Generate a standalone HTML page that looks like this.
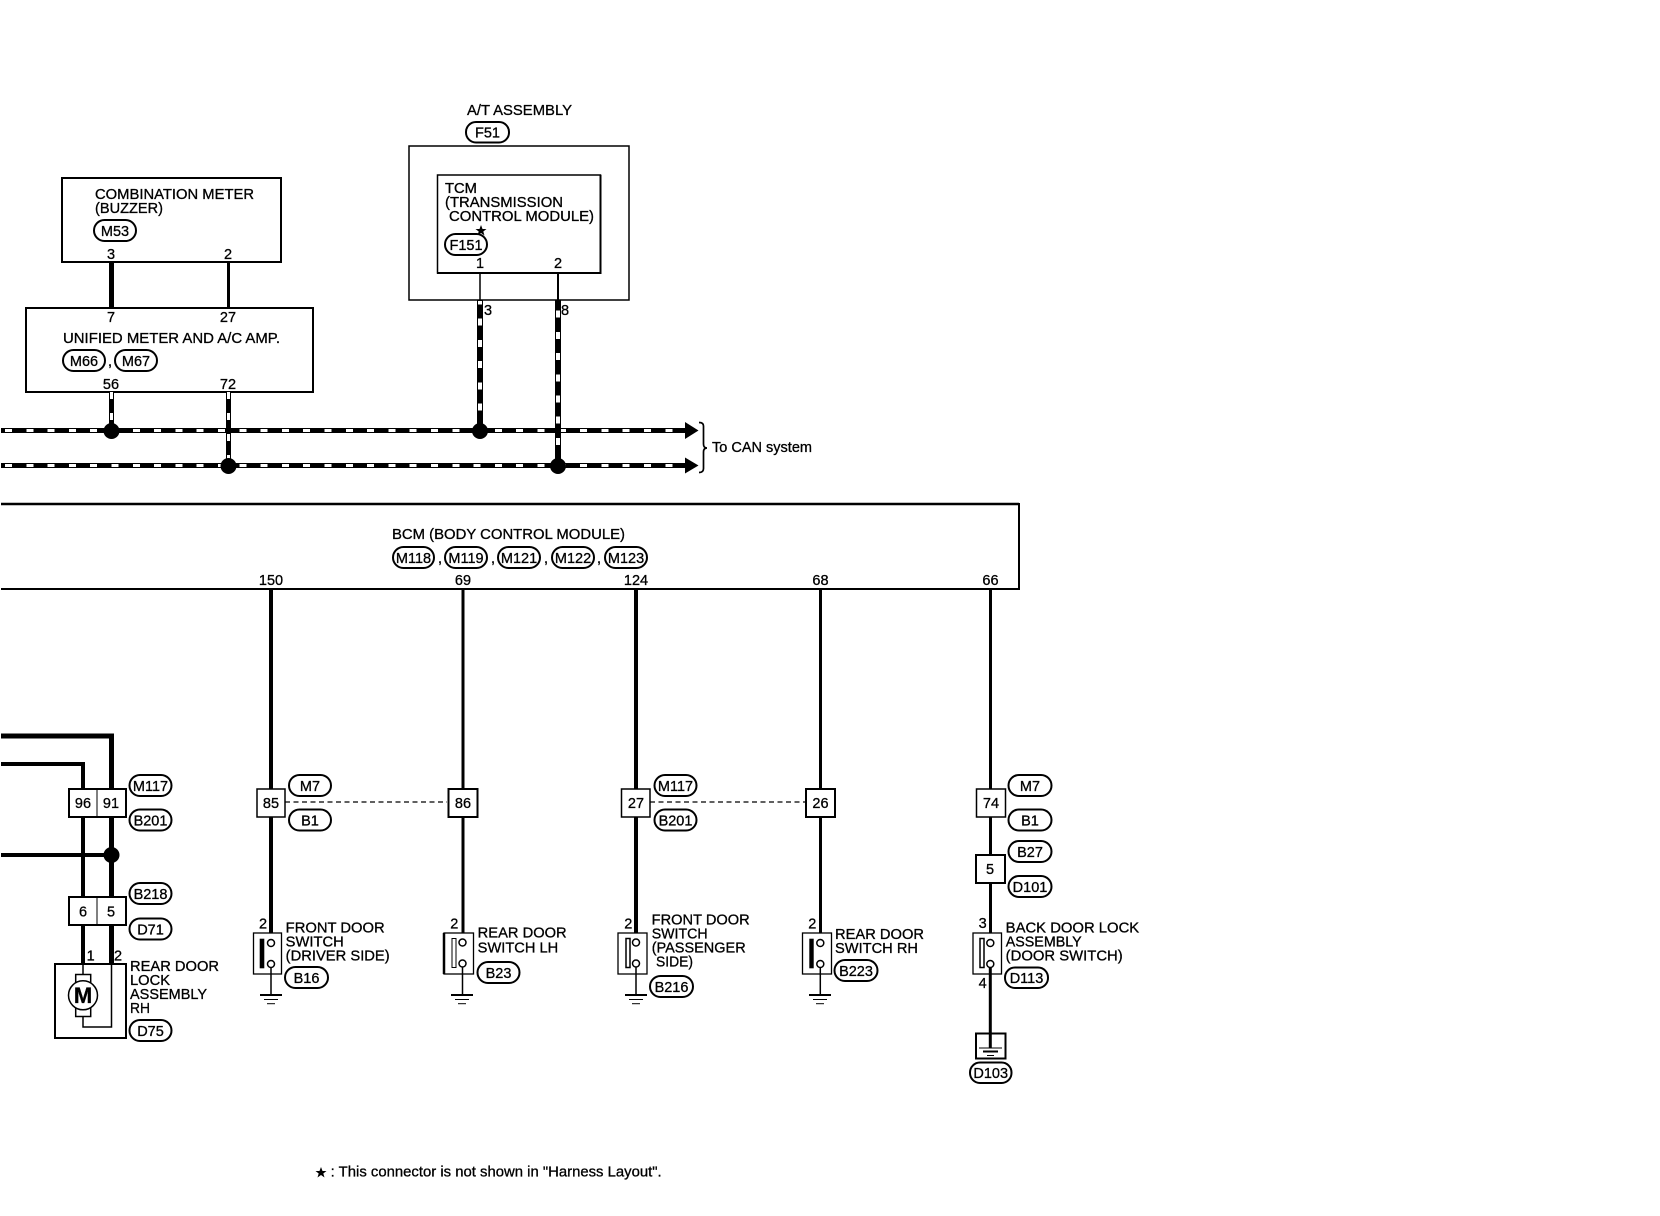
<!DOCTYPE html>
<html><head><meta charset="utf-8"><title>Wiring diagram</title>
<style>
html,body{margin:0;padding:0;background:#fff}
svg{display:block}
text{font-family:"Liberation Sans",sans-serif;font-size:14.5px;fill:#000;stroke:#000;stroke-width:.3}
.m{text-anchor:middle}
.p{fill:#fff;stroke:#000;stroke-width:2}
.b{fill:#fff;stroke:#000}
.n{fill:none;stroke:#000}
.w{fill:none;stroke:#fff;shape-rendering:crispEdges}
</style></head><body>
<svg width="1660" height="1216" viewBox="0 0 1660 1216" xmlns="http://www.w3.org/2000/svg">
<rect width="1660" height="1216" fill="#fff"/>

<!-- Combination meter -->
<rect class="b" x="62" y="178" width="219" height="84" stroke-width="2"/>
<text x="95" y="199" textLength="159" lengthAdjust="spacingAndGlyphs">COMBINATION METER</text>
<text x="95" y="213" textLength="68" lengthAdjust="spacingAndGlyphs">(BUZZER)</text>
<rect class="p" x="94" y="220" width="42" height="21" rx="10.5"/><text class="m" x="115" y="236">M53</text>
<text class="m" x="111" y="259">3</text><text class="m" x="228" y="259">2</text>
<path class="n" d="M111.5 262V308" stroke-width="5"/>
<path class="n" d="M228.5 262V308" stroke-width="3"/>

<!-- Unified meter -->
<rect class="b" x="26" y="308" width="287" height="84" stroke-width="2"/>
<text class="m" x="111" y="322">7</text><text class="m" x="228" y="322">27</text>
<text x="63" y="343" textLength="217" lengthAdjust="spacingAndGlyphs">UNIFIED METER AND A/C AMP.</text>
<rect class="p" x="63" y="350" width="42" height="21" rx="10.5"/><text class="m" x="84" y="366">M66</text>
<text x="108" y="366">,</text>
<rect class="p" x="115" y="350" width="42" height="21" rx="10.5"/><text class="m" x="136" y="366">M67</text>
<text class="m" x="111" y="389">56</text><text class="m" x="228" y="389">72</text>

<!-- A/T assembly -->
<text x="467" y="115" textLength="105" lengthAdjust="spacingAndGlyphs">A/T ASSEMBLY</text>
<rect class="p" x="466" y="122" width="43" height="20.5" rx="10"/><text class="m" x="487.500" y="137.500">F51</text>
<rect class="b" x="409" y="146" width="220" height="154" stroke-width="1.500"/>
<rect class="b" x="437.500" y="175" width="163" height="98" stroke-width="1.500"/>
<path class="n" d="M600.500 175V273H437" stroke-width="2"/>
<text x="445" y="193" textLength="32" lengthAdjust="spacingAndGlyphs">TCM</text>
<text x="445" y="207" textLength="118" lengthAdjust="spacingAndGlyphs">(TRANSMISSION</text>
<text x="449" y="221" textLength="145" lengthAdjust="spacingAndGlyphs">CONTROL MODULE)</text>
<polygon points="481,225 482.500,229 486.500,229 483.300,231.500 484.500,235.500 481,233 477.500,235.500 478.700,231.500 475.500,229 479.500,229"/>
<rect class="p" x="445" y="234" width="42" height="21" rx="10.500"/><text class="m" x="466" y="250">F151</text>
<text class="m" x="480" y="268">1</text><text class="m" x="558" y="268">2</text>
<path class="n" d="M480 273V300" stroke-width="1.500"/>
<path class="n" d="M558 273V300" stroke-width="2"/>
<text x="484" y="315">3</text><text x="561" y="315">8</text>

<!-- CAN bus -->
<path class="n" d="M1 430.500H686M1 465.500H686" stroke-width="5"/>
<path class="w" d="M5 430.500H686M5 465.500H686" stroke-width="3" stroke-dasharray="7 14.300"/>
<path class="n" d="M111.500 392V431M228.500 392V466" stroke-width="5"/>
<path class="n" d="M480 300.500V431M558 300.500V466" stroke-width="6"/>
<path class="w" d="M111.500 392V431M228.500 392V466" stroke-width="3" stroke-dasharray="7 14"/>
<path class="w" d="M480 301V431" stroke-width="4" stroke-dasharray="7 14.200" stroke-dashoffset="3.500"/>
<path class="w" d="M558 310.700V466" stroke-width="4" stroke-dasharray="7 14.200"/>
<circle cx="111.500" cy="431" r="8"/><circle cx="228.500" cy="466" r="8"/>
<circle cx="480" cy="431" r="8"/><circle cx="558" cy="466" r="8"/>
<polygon points="685,422 698.500,430.500 685,439"/><polygon points="685,457.500 698.500,465.500 685,473.500"/>
<path class="n" d="M699 422.500Q703.500 422.500 703.500 426V444Q703.500 448 707 448Q703.500 448 703.500 452V468.500Q703.500 472.500 699 472.500" stroke-width="1.700"/>
<text x="712" y="452" textLength="100" lengthAdjust="spacingAndGlyphs">To CAN system</text>

<!-- BCM -->
<path class="n" d="M1 504H1019V589H1" stroke-width="2"/>
<path class="n" d="M1 504H1019" stroke-width="2.500"/>
<text x="392" y="539" textLength="233" lengthAdjust="spacingAndGlyphs">BCM (BODY CONTROL MODULE)</text>
<rect class="p" x="393" y="547" width="41" height="21" rx="10.500"/><text class="m" x="413.500" y="563">M118</text>
<text x="438" y="563">,</text>
<rect class="p" x="445" y="547" width="42" height="21" rx="10.500"/><text class="m" x="466" y="563">M119</text>
<text x="491" y="563">,</text>
<rect class="p" x="498" y="547" width="42" height="21" rx="10.500"/><text class="m" x="519" y="563">M121</text>
<text x="544" y="563">,</text>
<rect class="p" x="552" y="547" width="42" height="21" rx="10.500"/><text class="m" x="573" y="563">M122</text>
<text x="597" y="563">,</text>
<rect class="p" x="605" y="547" width="42" height="21" rx="10.500"/><text class="m" x="626" y="563">M123</text>
<text class="m" x="271" y="585">150</text><text class="m" x="463" y="585">69</text><text class="m" x="636" y="585">124</text><text class="m" x="820.500" y="585">68</text><text class="m" x="990.500" y="585">66</text>

<!-- BCM wires -->
<path class="n" d="M271 589V940" stroke-width="4"/>
<path class="n" d="M463 589V940" stroke-width="3"/>
<path class="n" d="M636 589V940" stroke-width="4"/>
<path class="n" d="M820.500 589V940" stroke-width="3"/>
<path class="n" d="M990.500 589V940" stroke-width="3"/>
<path class="n" d="M285 802H447M650 802H806" stroke-width="1.200" stroke-dasharray="5 3.500"/>

<!-- Left wires -->
<path class="n" d="M1 736H111.500V964" stroke-width="5"/>
<path class="n" d="M1 764H83V964" stroke-width="4"/>
<path class="n" d="M1 855H111" stroke-width="4"/>
<circle cx="111.500" cy="855" r="8"/>

<!-- Connector 96/91 -->
<rect class="b" x="69" y="789" width="57" height="28" stroke-width="2"/>
<path class="n" d="M97 789V817" stroke-width="1"/>
<text class="m" x="83" y="808">96</text><text class="m" x="111" y="808">91</text>
<rect class="p" x="129.500" y="775" width="42" height="21" rx="10.500"/><text class="m" x="150.500" y="791">M117</text>
<rect class="p" x="129.500" y="809.500" width="42" height="21" rx="10.500"/><text class="m" x="150.500" y="825.500">B201</text>

<!-- Connector 6/5 -->
<rect class="b" x="69" y="897" width="57" height="28" stroke-width="2"/>
<path class="n" d="M97 897V925" stroke-width="1"/>
<text class="m" x="83" y="916.500">6</text><text class="m" x="111" y="916.500">5</text>
<rect class="p" x="129.500" y="883" width="42" height="21" rx="10.500"/><text class="m" x="150.500" y="899">B218</text>
<rect class="p" x="129.500" y="918.500" width="42" height="21" rx="10.500"/><text class="m" x="150.500" y="934.500">D71</text>

<!-- Motor -->
<text class="m" x="90.700" y="960.700">1</text><text class="m" x="118" y="960.700">2</text>
<rect class="b" x="55" y="964" width="71" height="74" stroke-width="2"/>
<path class="n" d="M83 964V974M83 1016V1027H111.500V964" stroke-width="1.500"/>
<rect class="b" x="75.700" y="974.500" width="15" height="42" stroke-width="1.500"/>
<circle class="b" cx="83" cy="995.300" r="14.500" stroke-width="1.500"/>
<text class="m" x="83" y="1003" style="font-size:22px;font-weight:bold">M</text>
<text x="130" y="971" textLength="89" lengthAdjust="spacingAndGlyphs">REAR DOOR</text>
<text x="130" y="985" textLength="40" lengthAdjust="spacingAndGlyphs">LOCK</text>
<text x="130" y="999" textLength="77" lengthAdjust="spacingAndGlyphs">ASSEMBLY</text>
<text x="130" y="1013" textLength="20" lengthAdjust="spacingAndGlyphs">RH</text>
<rect class="p" x="129.500" y="1020" width="42" height="21" rx="10.500"/><text class="m" x="150.500" y="1036">D75</text>

<!-- Connectors row -->
<rect class="b" x="257" y="789" width="28" height="28" stroke-width="1.500"/><text class="m" x="271" y="808">85</text>
<rect class="p" x="289" y="775" width="42" height="21" rx="10.500"/><text class="m" x="310" y="791">M7</text>
<rect class="p" x="289" y="809.500" width="42" height="21" rx="10.500"/><text class="m" x="310" y="825.500">B1</text>
<rect class="b" x="448.500" y="789" width="29" height="28" stroke-width="2"/><text class="m" x="463" y="808">86</text>
<rect class="b" x="621.500" y="789" width="28.500" height="28" stroke-width="1.500"/><text class="m" x="636" y="808">27</text>
<rect class="p" x="654.500" y="775" width="42" height="21" rx="10.500"/><text class="m" x="675.500" y="791">M117</text>
<rect class="p" x="654.500" y="809.500" width="42" height="21" rx="10.500"/><text class="m" x="675.500" y="825.500">B201</text>
<rect class="b" x="806" y="789" width="29" height="28" stroke-width="2"/><text class="m" x="820.500" y="808">26</text>
<rect class="b" x="976.500" y="789" width="29" height="28" stroke-width="1.500"/><text class="m" x="991" y="808">74</text>
<rect class="p" x="1008.500" y="775" width="43" height="21" rx="10.500"/><text class="m" x="1030" y="791">M7</text>
<rect class="p" x="1008.500" y="809.500" width="43" height="21" rx="10.500"/><text class="m" x="1030" y="825.500">B1</text>
<rect class="b" x="976" y="855" width="29" height="28" stroke-width="2"/><text class="m" x="990" y="874">5</text>
<rect class="p" x="1008.500" y="841" width="43" height="21" rx="10.500"/><text class="m" x="1030" y="857">B27</text>
<rect class="p" x="1008.500" y="876" width="43" height="21" rx="10.500"/><text class="m" x="1030" y="892">D101</text>

<!-- Switch: front door driver -->
<text class="m" x="263" y="928.300">2</text>
<rect class="b" x="253.500" y="933" width="28" height="41" stroke-width="1.300"/>
<rect x="259.700" y="938.700" width="4.600" height="29.600"/>
<path class="n" d="M271 967V995" stroke-width="1.500"/>
<circle class="b" cx="271" cy="943" r="3.500" stroke-width="1.500"/><circle class="b" cx="271" cy="964" r="3.500" stroke-width="1.500"/>
<path class="n" d="M260 995H282" stroke-width="2"/><path class="n" d="M264 999.500H278" stroke-width="1"/><path class="n" d="M267 1003.700H275" stroke-width="1"/>
<text x="285.700" y="932.700" textLength="99" lengthAdjust="spacingAndGlyphs">FRONT DOOR</text>
<text x="285.700" y="946.700" textLength="58" lengthAdjust="spacingAndGlyphs">SWITCH</text>
<text x="285.700" y="960.700" textLength="104" lengthAdjust="spacingAndGlyphs">(DRIVER SIDE)</text>
<rect class="p" x="285" y="967" width="43" height="21" rx="10.500"/><text class="m" x="306.500" y="983">B16</text>

<!-- Switch: rear door LH -->
<text class="m" x="454.300" y="928.300">2</text>
<rect class="b" x="444" y="933" width="29.500" height="41" stroke-width="1.300"/>
<path class="n" d="M444 933V974" stroke-width="2.500"/>
<rect class="b" x="452" y="938.500" width="4" height="29" stroke-width="1"/>
<path class="n" d="M462.500 967V995" stroke-width="1.500"/>
<circle class="b" cx="462.500" cy="942.500" r="3.500" stroke-width="1.500"/><circle class="b" cx="462.500" cy="963.500" r="3.500" stroke-width="1.500"/>
<path class="n" d="M451 995H473" stroke-width="2"/><path class="n" d="M455 999.500H469" stroke-width="1"/><path class="n" d="M458 1003.700H466" stroke-width="1"/>
<text x="477.700" y="937.700" textLength="89" lengthAdjust="spacingAndGlyphs">REAR DOOR</text>
<text x="477.700" y="952.700" textLength="80.500" lengthAdjust="spacingAndGlyphs">SWITCH LH</text>
<rect class="p" x="477.500" y="962" width="42" height="21" rx="10.500"/><text class="m" x="498.500" y="978">B23</text>

<!-- Switch: front door passenger -->
<text class="m" x="628.300" y="928.300">2</text>
<rect class="b" x="618" y="933" width="29" height="41" stroke-width="1.300"/>
<rect class="b" x="626" y="938.500" width="4" height="29" stroke-width="1.500"/>
<path class="n" d="M636 967V995" stroke-width="1.500"/>
<circle class="b" cx="636" cy="942.500" r="3.500" stroke-width="1.500"/><circle class="b" cx="636" cy="963.500" r="3.500" stroke-width="1.500"/>
<path class="n" d="M625 995H647" stroke-width="2"/><path class="n" d="M629 999.500H643" stroke-width="1"/><path class="n" d="M632 1003.700H640" stroke-width="1"/>
<text x="651.700" y="924.300" textLength="98" lengthAdjust="spacingAndGlyphs">FRONT DOOR</text>
<text x="651.700" y="938.300" textLength="56" lengthAdjust="spacingAndGlyphs">SWITCH</text>
<text x="651.700" y="952.300" textLength="94" lengthAdjust="spacingAndGlyphs">(PASSENGER</text>
<text x="656" y="966.300" textLength="37" lengthAdjust="spacingAndGlyphs">SIDE)</text>
<rect class="p" x="650" y="976" width="43" height="21" rx="10.500"/><text class="m" x="671.500" y="992">B216</text>

<!-- Switch: rear door RH -->
<text class="m" x="812.300" y="928.300">2</text>
<rect class="b" x="802.500" y="933" width="29" height="41" stroke-width="1.300"/>
<rect x="809.300" y="938.700" width="4.400" height="29.600"/>
<path class="n" d="M820.300 967V995" stroke-width="1.500"/>
<circle class="b" cx="820.300" cy="943" r="3.500" stroke-width="1.500"/><circle class="b" cx="820.300" cy="964" r="3.500" stroke-width="1.500"/>
<path class="n" d="M809 995H831" stroke-width="2"/><path class="n" d="M813 999.500H827" stroke-width="1"/><path class="n" d="M816 1003.700H824" stroke-width="1"/>
<text x="835" y="939" textLength="89" lengthAdjust="spacingAndGlyphs">REAR DOOR</text>
<text x="835" y="953" textLength="83" lengthAdjust="spacingAndGlyphs">SWITCH RH</text>
<rect class="p" x="834.500" y="960" width="43" height="21" rx="10.500"/><text class="m" x="856" y="976">B223</text>

<!-- Switch: back door -->
<text class="m" x="982.700" y="928">3</text>
<rect class="b" x="973" y="933" width="28.500" height="41" stroke-width="1.300"/>
<rect class="b" x="980" y="938.500" width="4" height="29" stroke-width="1.500"/>
<path class="n" d="M990.300 967V1048" stroke-width="3"/>
<circle class="b" cx="990.300" cy="943" r="3.500" stroke-width="1.500"/><circle class="b" cx="990.300" cy="964" r="3.500" stroke-width="1.500"/>
<text class="m" x="982.700" y="988">4</text>
<text x="1005.700" y="932.700" textLength="133.500" lengthAdjust="spacingAndGlyphs">BACK DOOR LOCK</text>
<text x="1005.700" y="946.700" textLength="76" lengthAdjust="spacingAndGlyphs">ASSEMBLY</text>
<text x="1005.700" y="960.700" textLength="117" lengthAdjust="spacingAndGlyphs">(DOOR SWITCH)</text>
<rect class="p" x="1005" y="967.500" width="43" height="20.500" rx="10"/><text class="m" x="1026.500" y="983">D113</text>

<!-- Ground box -->
<rect class="n" x="976" y="1033.500" width="29.500" height="25" stroke-width="2" fill="none"/>
<path class="n" d="M979 1048H1002" stroke-width="1"/><path class="n" d="M983 1051.500H998" stroke-width="2"/><path class="n" d="M987 1055.500H994" stroke-width="1"/>
<rect class="p" x="970" y="1062.500" width="41.500" height="20.500" rx="10"/><text class="m" x="990.700" y="1078">D103</text>

<!-- Footnote -->
<polygon points="321,1167 322.500,1171 326.500,1171 323.300,1173.500 324.500,1177.500 321,1175 317.500,1177.500 318.700,1173.500 315.500,1171 319.500,1171"/>
<text x="330.700" y="1176.700" textLength="331" lengthAdjust="spacingAndGlyphs">: This connector is not shown in "Harness Layout".</text>
</svg>
</body></html>
